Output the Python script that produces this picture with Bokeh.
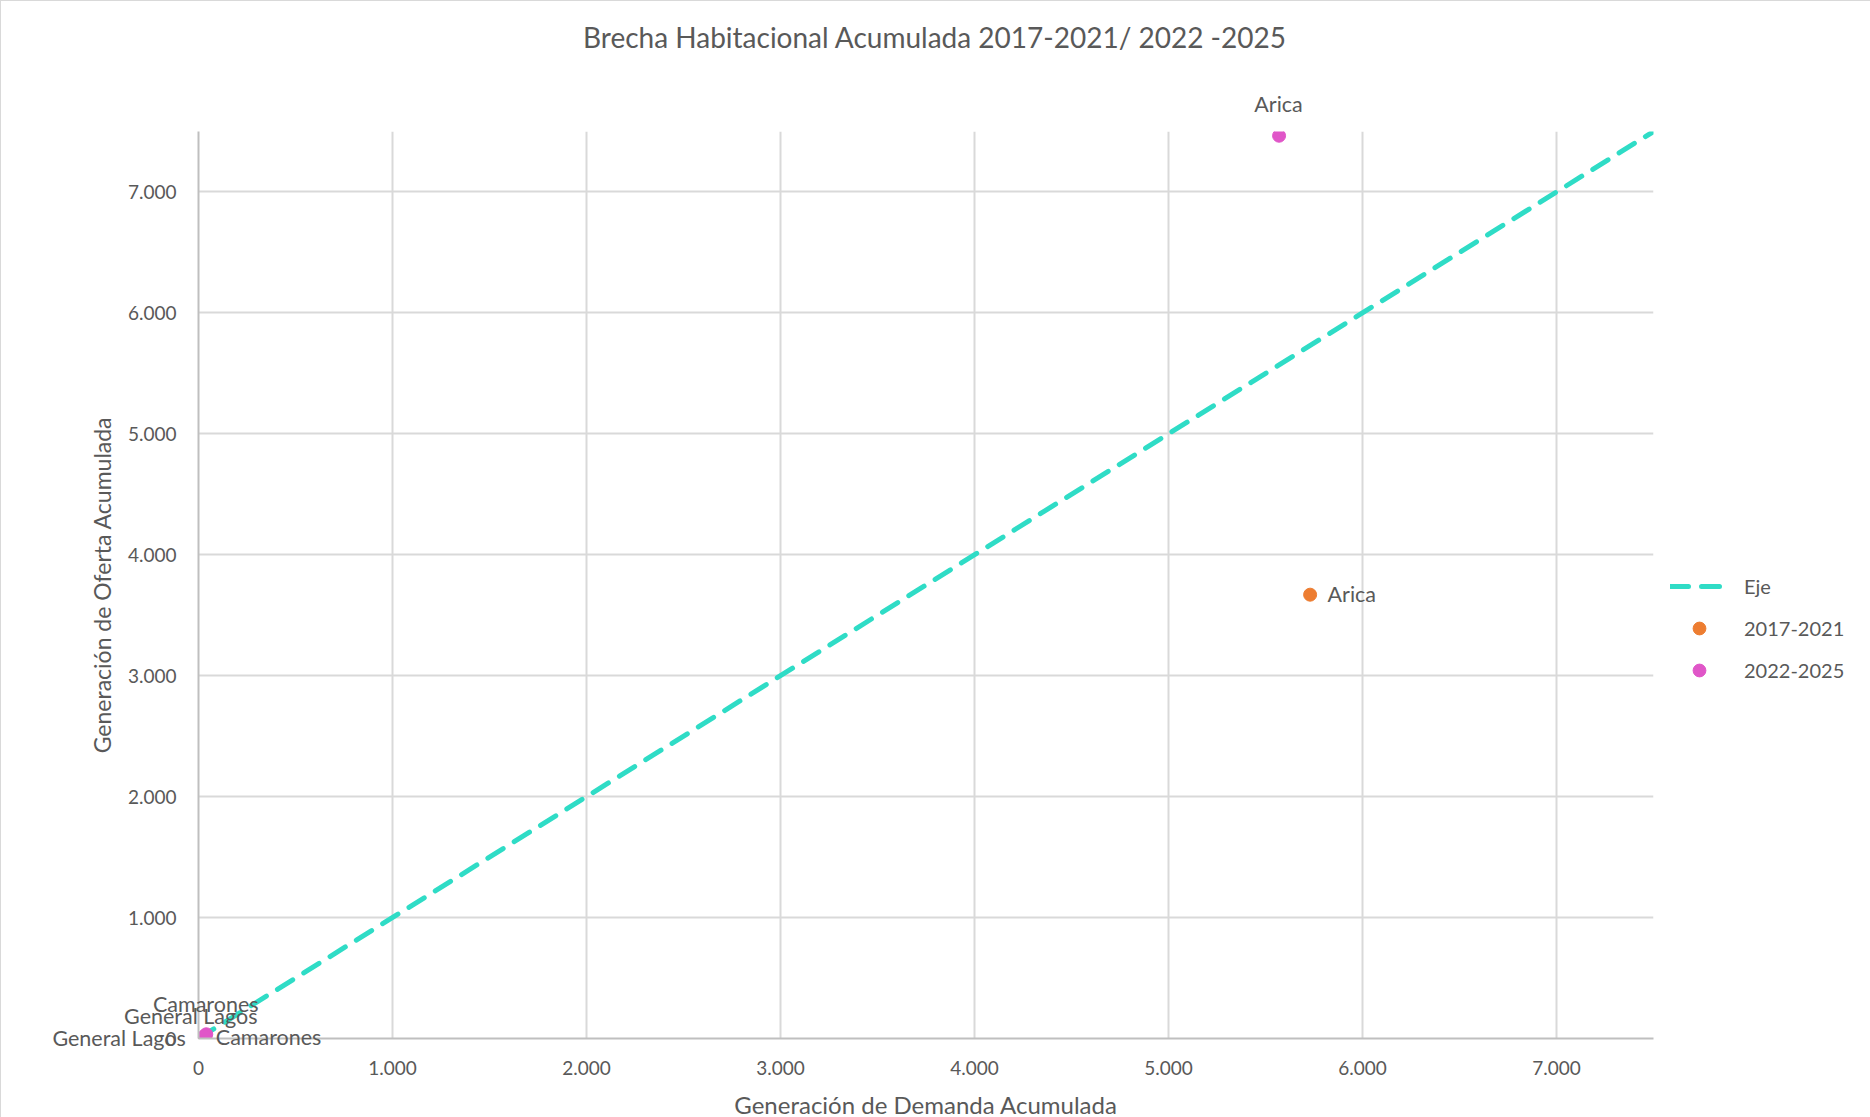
from bokeh.plotting import figure
from bokeh.models import (ColumnDataSource, Legend, LegendItem, CustomJSTickFormatter,
                          FixedTicker, Range1d, HTMLLabelSet)
from bokeh.core.properties import value
from bokeh.embed import file_html
from bokeh.resources import INLINE

# ---- data ----
title_text = "Brecha Habitacional Acumulada 2017-2021/ 2022 -2025"
x_title = "Generación de Demanda Acumulada"
y_title = "Generación de Oferta Acumulada"

comunas = ["Arica", "Camarones", "General Lagos"]
demanda_2017 = [5730, 35, 25]
oferta_2017 = [3670, 5, 3]
demanda_2022 = [5570, 40, 30]
oferta_2022 = [7465, 35, 20]

eje_x = [0, 7500]
eje_y = [0, 7500]

ticks = [0, 1000, 2000, 3000, 4000, 5000, 6000, 7000]

FONT = "Lato"
GRAY = "#595959"
ORANGE = "#ED7D31"
PINK = "#E056C8"
TEAL = "#2FDCC6"

FRAME_W, FRAME_H = 1455, 907
p = figure(frame_width=FRAME_W, frame_height=FRAME_H, output_backend="svg", toolbar_location=None,
           x_range=Range1d(0, 7500), y_range=Range1d(0, 7500),
           min_border_left=197, min_border_right=216, min_border_top=130,
           min_border_bottom=78)
p.outline_line_color = None
p.background_fill_color = "white"
p.border_fill_color = "white"
p.styles = {"border": "1px solid #d9d9d9"}

# title: an HTML label anchored at the frame's top-centre, shifted up in screen pixels
title_src = ColumnDataSource(dict(x=[7500 / 2], y=[7500], t=[title_text]))
p.add_layout(HTMLLabelSet(x="x", y="y", text="t", source=title_src, x_offset=9, y_offset=94,
                          text_align="center", text_baseline="middle", text_font=value(FONT),
                          text_font_size="28px", text_color=GRAY))

fmt = CustomJSTickFormatter(code="return Math.round(tick).toString().replace(/\\B(?=(\\d{3})+(?!\\d))/g, '.');")
for ax in (p.xaxis[0], p.yaxis[0]):
    ax.ticker = FixedTicker(ticks=ticks)
    ax.formatter = fmt
    ax.major_tick_line_color = None
    ax.minor_tick_line_color = None
    ax.axis_line_color = "#bfbfbf"
    ax.axis_line_width = 2
    ax.major_label_text_font = FONT
    ax.major_label_text_font_size = "19px"
    ax.major_label_text_color = GRAY
    ax.axis_label_text_font = FONT
    ax.axis_label_text_font_style = "normal"
    ax.axis_label_text_color = GRAY

p.xaxis.axis_label = x_title
p.yaxis.axis_label = y_title
p.xaxis.axis_label_text_font_size = "24px"
p.yaxis.axis_label_text_font_size = "23px"
p.xaxis.major_label_standoff = 16
p.xaxis.axis_label_standoff = 12
p.yaxis.major_label_standoff = 16
p.yaxis.axis_label_standoff = 9

p.xgrid.ticker = FixedTicker(ticks=ticks[1:])
p.ygrid.ticker = FixedTicker(ticks=ticks[1:])
p.grid.grid_line_color = "#d9d9d9"
p.grid.grid_line_width = 2

eje = p.line(eje_x, eje_y, line_color=TEAL, line_width=5, line_dash="18 13", line_cap="round")

src17 = ColumnDataSource(dict(x=demanda_2017, y=oferta_2017, name=comunas,
                              xo=[18, 11, -17], yo=[0, 0, 0],
                              align=["left", "left", "right"]))
src22 = ColumnDataSource(dict(x=demanda_2022, y=oferta_2022, name=comunas,
                              xo=[0, 0, -13], yo=[31, 30, 20],
                              align=["center", "center", "center"]))

r17 = p.scatter("x", "y", source=src17, size=13, fill_color=ORANGE, line_color=ORANGE)
r22 = p.scatter("x", "y", source=src22, size=13, fill_color=PINK, line_color=PINK)

for src in (src17, src22):
    p.add_layout(HTMLLabelSet(x="x", y="y", text="name", source=src, x_offset="xo", y_offset="yo",
                              text_align="align", text_baseline="middle", text_font=value(FONT),
                              text_font_size="21.5px", text_color=GRAY))

legend = Legend(items=[LegendItem(label="Eje", renderers=[eje]),
                       LegendItem(label="2017-2021", renderers=[r17]),
                       LegendItem(label="2022-2025", renderers=[r22])],
                location=(17, 352), border_line_color=None, background_fill_alpha=0,
                label_text_font=FONT, label_text_font_size="20px", label_text_color=GRAY,
                glyph_width=58, glyph_height=32, spacing=10, label_standoff=16,
                margin=0, padding=0)
p.add_layout(legend, "right")

open("out.html", "w").write(file_html(p, INLINE))
